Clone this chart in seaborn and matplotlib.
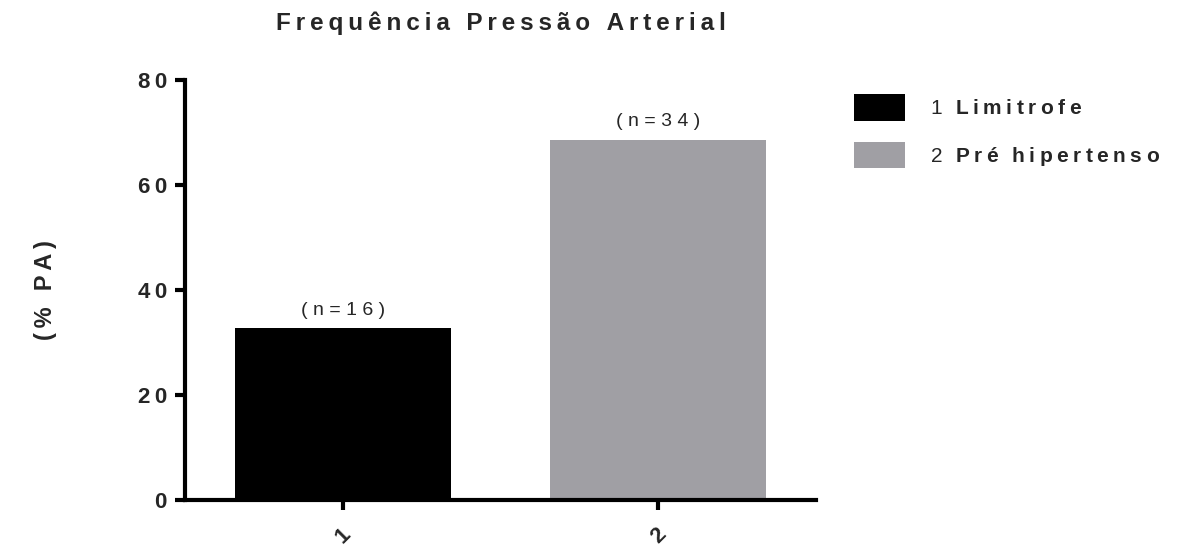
import matplotlib
matplotlib.use("Agg")
import matplotlib.pyplot as plt
import seaborn as sns
import numpy as np
from matplotlib.patches import Patch

# data
categories = ["1", "2"]
values = [32.7, 68.6]
counts = [16, 34]
legend_names = ["Limitrofe", "Pré hipertenso"]
colors = ["#000000", "#a09fa4"]
yticks = [0, 20, 40, 60, 80]

THIN = "\u2009"


def spaced(s, gap=THIN):
    # fake letter spacing like the Prism export
    return (gap + " " + gap).join(gap.join(w) for w in s.split(" "))


sns.set_style("white")
plt.rcParams['font.family'] = ['Liberation Sans', 'DejaVu Sans']
plt.rcParams['mathtext.fontset'] = 'custom'
plt.rcParams['mathtext.rm'] = 'Liberation Sans'
plt.rcParams['mathtext.bf'] = 'Liberation Sans:bold'

fig = plt.figure(figsize=(11.78, 5.46), dpi=100)
ax = fig.add_axes([0.157, 0.0842, 0.5357, 0.7693])

sns.barplot(x=categories, y=values, hue=categories, palette=colors,
            width=0.685, saturation=1, linewidth=0, errorbar=None,
            legend=False, ax=ax)

ax.set_xlim(-0.5, 1.5)
ax.set_ylim(0, 80)
ax.set_yticks(yticks)
ax.set_yticklabels([spaced(str(t)) for t in yticks], fontsize=16, fontweight='bold')
ax.set_xticks(range(len(categories)))
ax.set_xticklabels(categories, rotation=45, fontsize=16, fontweight='bold')

for side in ['top', 'right']:
    ax.spines[side].set_visible(False)
for side in ['left', 'bottom']:
    ax.spines[side].set_linewidth(3)
    ax.spines[side].set_color('black')
ax.tick_params(axis='both', which='major', length=7, width=3, color='black',
               direction='out', left=True, bottom=True)
ax.tick_params(axis='y', pad=6)
ax.tick_params(axis='x', pad=10)

# n labels above bars
for i, (v, n) in enumerate(zip(values, counts)):
    ax.annotate(spaced("(n=%d)" % n, " "), xy=(i, v), xytext=(0, 7),
                textcoords='offset points', ha='center', va='bottom',
                fontsize=14)

ax.set_title(spaced("Frequência Pressão Arterial"), fontsize=17.5,
             fontweight='bold', pad=36)
ax.set_ylabel(spaced("(% PA)"), fontsize=17, fontweight='bold')
ax.yaxis.set_label_coords(-0.203, 0.5)

handles = [Patch(facecolor=c, edgecolor='none') for c in colors]
labels = []
for i, name in enumerate(legend_names):
    bold = r"\ \ ".join(r"\:".join(w) for w in name.split(" "))
    labels.append("%d$\\ \\ \\mathbf{%s}$" % (i + 1, bold))
fig.legend(handles, labels, loc='upper left', bbox_to_anchor=(0.725, 0.828),
           frameon=False, fontsize=15, handlelength=2.45, handleheight=1.6,
           handletextpad=1.2, labelspacing=1.0, borderpad=0, borderaxespad=0)

plt.savefig("out.png", dpi=100)
